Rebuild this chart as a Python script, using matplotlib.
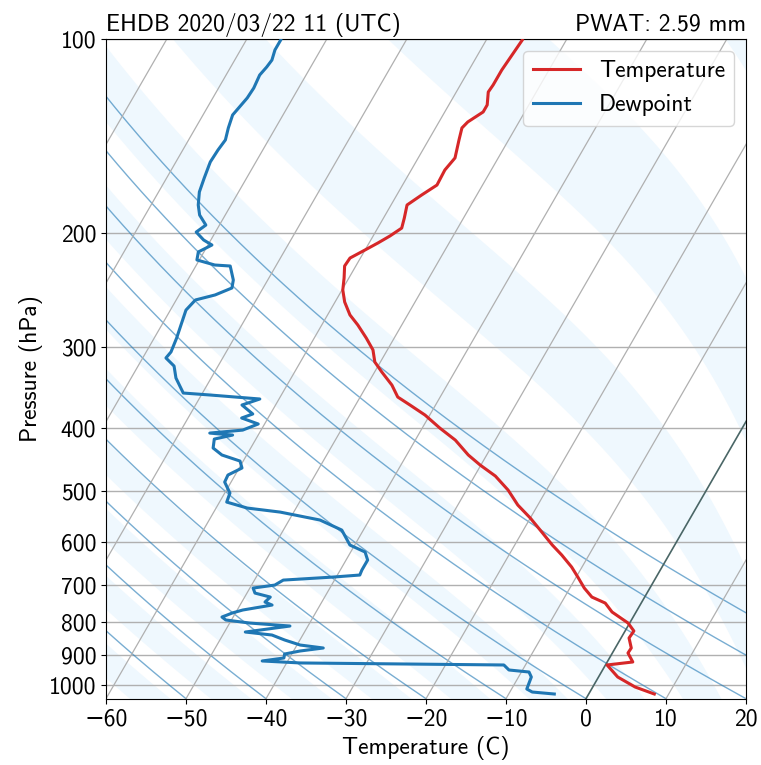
import numpy as np
import matplotlib
matplotlib.use('Agg')
import matplotlib.pyplot as plt
from matplotlib.transforms import Affine2D
from matplotlib.ticker import FixedLocator, NullLocator, FormatStrFormatter

plt.rcParams['font.family'] = ['cmss10', 'DejaVu Sans']
plt.rcParams['font.size'] = 17

# ---------------- data (pressure hPa, temperature degC) ----------------
temp_p = [100.4, 105.9, 111.7, 117.8, 120.8, 126.5, 129.7, 134.4, 137.3, 143.3,
          152.8, 159.5, 168.3, 174.4, 180.7, 189.3, 196.2, 201.8, 206.9, 212.1,
          218.3, 224.6, 234.4, 244.6, 255.3, 267.4, 277.1, 290.3, 302.9, 316.2,
          327.7, 343.3, 358.3, 368.6, 382.0, 400.2, 417.7, 440.5, 456.5, 474.8,
          499.1, 526.5, 551.5, 575.6, 607.2, 629.2, 656.7, 680.6, 707.8, 730.9,
          746.7, 770.9, 801.8, 824.9, 845.7, 876.4, 892.2, 921.2, 931.1, 971.9,
          1007.2, 1032.6]
temp_t = [-55.5, -55.7, -55.9, -55.9, -56.0, -55.2, -55.2, -56.4, -56.7, -56.2,
          -55.4, -55.8, -55.7, -56.9, -58.0, -57.4, -57.0, -57.9, -58.9, -60.0,
          -61.3, -61.4, -60.6, -59.9, -58.8, -57.2, -55.5, -53.5, -51.8, -50.7,
          -49.1, -46.9, -45.3, -43.2, -40.6, -37.8, -35.0, -32.3, -30.1, -27.4,
          -24.8, -22.5, -20.0, -17.9, -15.3, -13.4, -11.3, -9.8, -8.2, -6.6,
          -4.5, -3.0, -0.2, 1.1, 1.0, 2.0, 1.95, 3.2, 0.2, 2.4,
          5.3, 8.2]

dew_p = [100.4, 104.0, 107.8, 110.5, 113.7, 119.1, 123.4, 131.1, 137.3, 143.3,
         148.5, 155.0, 164.1, 172.5, 180.7, 187.3, 194.1, 199.0, 204.7, 208.4,
         213.6, 219.8, 223.8, 224.6, 236.1, 242.9, 249.0, 253.5, 262.8, 277.1,
         290.3, 305.1, 311.7, 320.8, 334.8, 353.2, 355.7, 360.8, 368.6, 380.6,
         386.1, 394.4, 403.1, 407.4, 410.3, 416.2, 429.7, 440.5, 450.1, 461.4,
         473.1, 485.1, 504.5, 521.0, 532.2, 539.9, 555.4, 575.6, 607.2, 622.5,
         640.6, 663.8, 675.7, 680.6, 688.0, 700.3, 707.8, 720.6, 730.9, 744.0,
         752.0, 765.4, 773.6, 784.8, 793.2, 801.8, 810.4, 827.9, 836.8, 851.8,
         867.2, 876.4, 885.9, 895.4, 908.2, 917.9, 924.4, 931.1, 947.9, 954.7,
         971.9, 1014.4, 1025.3, 1032.6]
dew_t = [-85.7, -85.7, -85.35, -85.5, -85.8, -85.6, -85.7, -86.3, -85.9, -85.4,
         -85.6, -85.7, -85.3, -84.9, -84.1, -83.2, -81.7, -82.4, -80.9, -79.5,
         -80.7, -80.3, -77.7, -75.7, -74.3, -73.9, -75.5, -77.6, -78.05, -77.6,
         -77.2, -76.9, -77.1, -75.5, -74.4, -72.4, -68.9, -62.4, -64.2, -62.2,
         -63.3, -60.8, -62.3, -66.2, -63.2, -65.2, -64.7, -63.1, -60.4, -59.65,
         -60.9, -60.8, -59.35, -59.1, -56.1, -51.7, -46.15, -42.7, -40.6, -38.2,
         -37.3, -37.3, -37.2, -40.4, -46.4, -47.1, -49.6, -49.0, -46.8, -47.1,
         -46.0, -49.3, -50.4, -51.4, -50.7, -47.5, -42.25, -47.4, -43.85, -41.9,
         -39.6, -36.5, -39.2, -40.9, -40.7, -43.2, -38.3, -12.7, -11.7, -9.05,
         -8.4, -8.1, -7.2, -4.3]

station_title = 'EHDB 2020/03/22 11 (UTC)'
pwat_title = 'PWAT: 2.59 mm'
p_ticks = [100, 200, 300, 400, 500, 600, 700, 800, 900, 1000]
t_ticks = [-60, -50, -40, -30, -20, -10, 0, 10, 20]

# ---------------- figure / skewed transform ----------------
W, H = 761, 765
L, R, T, B = 106, 746, 39, 698.7
fig = plt.figure(figsize=(W / 100, H / 100), dpi=100)
ax = fig.add_axes([L / W, 1 - B / H, (R - L) / W, (B - T) / H])
ax.set_yscale('log')
ax.set_xlim(-60, 20)
ax.set_ylim(1050, 100)
ax.set_autoscale_on(False)
k = np.tan(np.radians(30)) * (B - T) / (R - L)
skew = ax.transScale + ax.transLimits + Affine2D(np.array([[1, k, 0], [0, 1, 0], [0, 0, 1]])) + ax.transAxes

# ---------------- thermodynamic helper lines ----------------
Rd, Cp, Lv, eps = 287.04, 1005.7, 2.501e6, 0.622


def moist(t0, p_lev):
    t0 = np.atleast_1d(np.asarray(t0, float)) + 273.15

    def f(pp, TT):
        tc = TT - 273.15
        es = 6.112 * np.exp(17.67 * tc / (tc + 243.5))
        rs = eps * es / (pp - es)
        return (Rd * TT + Lv * rs) / (pp * (Cp + Lv * Lv * rs * eps / (Rd * TT * TT)))
    out = np.empty((len(t0), len(p_lev)))
    out[:, 0] = t0
    for i in range(1, len(p_lev)):
        h = p_lev[i] - p_lev[i - 1]
        pp = p_lev[i - 1]
        y = out[:, i - 1]
        k1 = f(pp, y)
        k2 = f(pp + h / 2, y + h / 2 * k1)
        k3 = f(pp + h / 2, y + h / 2 * k2)
        k4 = f(pp + h, y + h * k3)
        out[:, i] = y + h / 6 * (k1 + 2 * k2 + 2 * k3 + k4)
    return out - 273.15


# shaded bands between moist adiabats (reference 1000 hPa), every other 5 degC
band_starts = list(range(-80, 50, 10))
p_up = np.geomspace(1000, 95, 400)
p_dn = np.geomspace(1000, 1060, 20)
edges = sorted(set(band_starts + [b + 5 for b in band_starts]))
mu = moist(edges, p_up)
md = moist(edges, p_dn)
p_full = np.concatenate([p_dn[::-1], p_up[1:]])
m_full = np.concatenate([md[:, ::-1], mu[:, 1:]], axis=1)
for b in band_starts:
    i, j = edges.index(b), edges.index(b + 5)
    xs = np.concatenate([m_full[i], m_full[j][::-1]])
    ys = np.concatenate([p_full, p_full[::-1]])
    ax.fill(xs, ys, transform=skew, color='#eff8fe', lw=0, zorder=0)

# dry adiabats
p_lev = np.geomspace(1050, 95, 300)
for t0 in range(-50, 50, 10):
    tl = (t0 + 273.15) * (p_lev / 1050.0) ** (Rd / Cp) - 273.15
    ax.plot(tl, p_lev, transform=skew, color='#1f77b4', alpha=0.6, lw=1, zorder=1)

# isotherms
for t in range(-170, 30, 10):
    col, lw = ('#4a6666', 1.2) if t == 0 else ('#b0b0b0', 0.9)
    ax.plot([t, t], [1050, 100], transform=skew, color=col, lw=lw, zorder=1.2)

ax.yaxis.grid(True, color='#b0b0b0', lw=1.0, zorder=1.1)
ax.set_axisbelow(True)

# profiles
ax.plot(temp_t, temp_p, transform=skew, color='#d62728', lw=2.2, label='Temperature', zorder=3)
ax.plot(dew_t, dew_p, transform=skew, color='#1f77b4', lw=2.2, label='Dewpoint', zorder=3)

ax.yaxis.set_major_locator(FixedLocator(p_ticks))
ax.yaxis.set_minor_locator(NullLocator())
ax.yaxis.set_major_formatter(FormatStrFormatter('%d'))
ax.xaxis.set_major_locator(FixedLocator(t_ticks))
ax.tick_params(labelsize=17)
ax.set_xlabel('Temperature (C)', fontsize=17)
ax.set_ylabel('Pressure (hPa)', fontsize=17)
ax.set_title(station_title, loc='left', fontsize=17)
ax.set_title(pwat_title, loc='right', fontsize=17)
ax.legend(loc='upper right', fontsize=17)

fig.savefig('out.png', dpi=100)
